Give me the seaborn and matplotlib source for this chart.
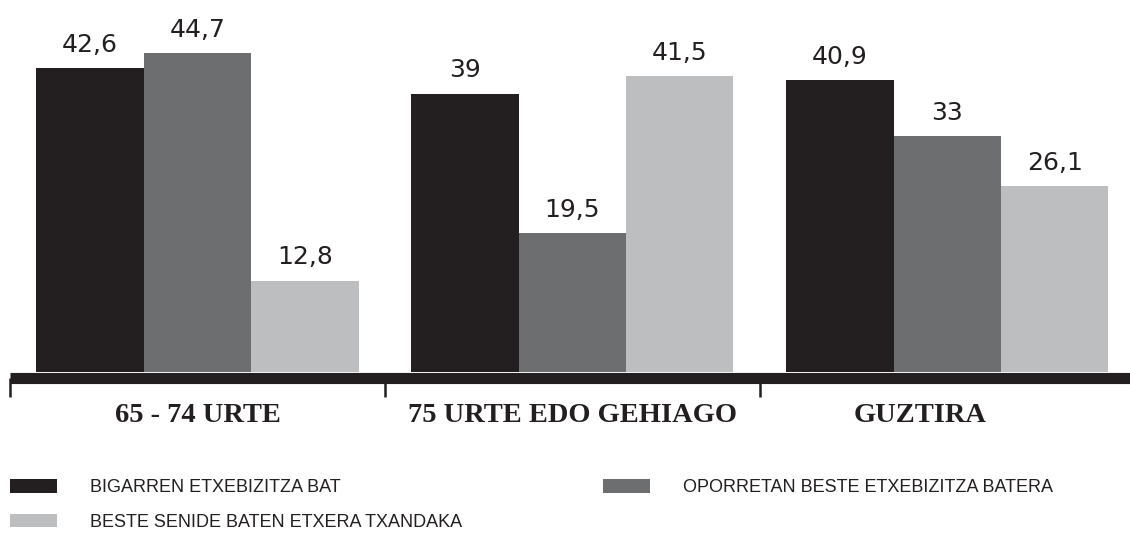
import matplotlib
matplotlib.use("Agg")
import matplotlib.pyplot as plt
import matplotlib.transforms as mtransforms
import seaborn as sns
import pandas as pd
from matplotlib.patches import Patch

categories = ["65 - 74 URTE", "75 URTE EDO GEHIAGO", "GUZTIRA"]
series = ["BIGARREN ETXEBIZITZA BAT",
          "OPORRETAN BESTE ETXEBIZITZA BATERA",
          "BESTE SENIDE BATEN ETXERA TXANDAKA"]
bigarren = [42.6, 39.0, 40.9]
oporretan = [44.7, 19.5, 33.0]
beste = [12.8, 41.5, 26.1]
colors = ["#231f20", "#6d6e70", "#bcbec0"]

rows = []
for s, vals in zip(series, [bigarren, oporretan, beste]):
    for c, v in zip(categories, vals):
        rows.append({"cat": c, "serie": s, "val": v})
df = pd.DataFrame(rows)

sns.set_theme(style="white")

W, H = 1130, 538
fig = plt.figure(figsize=(W / 100, H / 100), dpi=100)
x0, x1 = 10, 1130
ytop, ybase = 15, 372
ax = fig.add_axes([x0 / W, (H - ybase) / H, (x1 - x0) / W, (ybase - ytop) / H])

sns.barplot(data=df, x="cat", y="val", hue="serie", order=categories,
            hue_order=series, palette=colors, saturation=1, width=0.859,
            gap=0, edgecolor="none", linewidth=0, ax=ax, legend=False)

ax.set_xlim(-0.5, 2.487)
ax.set_ylim(0, 50)
ax.set_xlabel("")
ax.set_ylabel("")
ax.set_yticks([])
for sp in ["top", "left", "right"]:
    ax.spines[sp].set_visible(False)
ax.spines["bottom"].set_linewidth(8)
ax.spines["bottom"].set_color("#231f20")
ax.spines["bottom"].set_position(("outward", 4))
ax.spines["bottom"].set_capstyle("butt")

ax.set_xticks([-0.5, 0.5, 1.5])
ax.set_xticklabels([])
ax.tick_params(axis="x", direction="out", length=13.5, width=1.8,
               color="#231f20", bottom=True)
ax.set_xticks([0, 1, 2], minor=True)
ax.set_xticklabels(categories, minor=True, fontfamily="Liberation Serif",
                   fontweight="bold", fontsize=20.5, color="#231f20")
ax.tick_params(axis="x", which="minor", length=0, pad=18)
# the last group label sits a little left of its group centre in the reference
lbl = ax.get_xticklabels(minor=True)[2]
lbl.set_transform(lbl.get_transform() + mtransforms.ScaledTranslation(-0.27, 0, fig.dpi_scale_trans))

for cont in ax.containers:
    labels = [f"{v:g}".replace(".", ",") for v in cont.datavalues]
    ax.bar_label(cont, labels=labels, padding=8, fontsize=18,
                 fontfamily="DejaVu Sans", color="#231f20")

handles = [Patch(facecolor=colors[0], edgecolor="none"),
           Patch(facecolor=colors[2], edgecolor="none"),
           Patch(facecolor=colors[1], edgecolor="none")]
labs = [series[0], series[2], series[1]]
fs = 13
px = fs * 100 / 72
fig.legend(handles, labs, loc="upper left", bbox_to_anchor=(10 / W, 1 - 479 / H),
           ncol=2, frameon=False, borderpad=0, borderaxespad=0,
           handlelength=47 / px, handleheight=0.78,
           handletextpad=33 / px,
           labelspacing=0.98, columnspacing=141 / px,
           prop={"family": "Liberation Sans", "size": fs})
for t in fig.legends[0].get_texts():
    t.set_color("#231f20")

fig.savefig("out.png", dpi=100)
